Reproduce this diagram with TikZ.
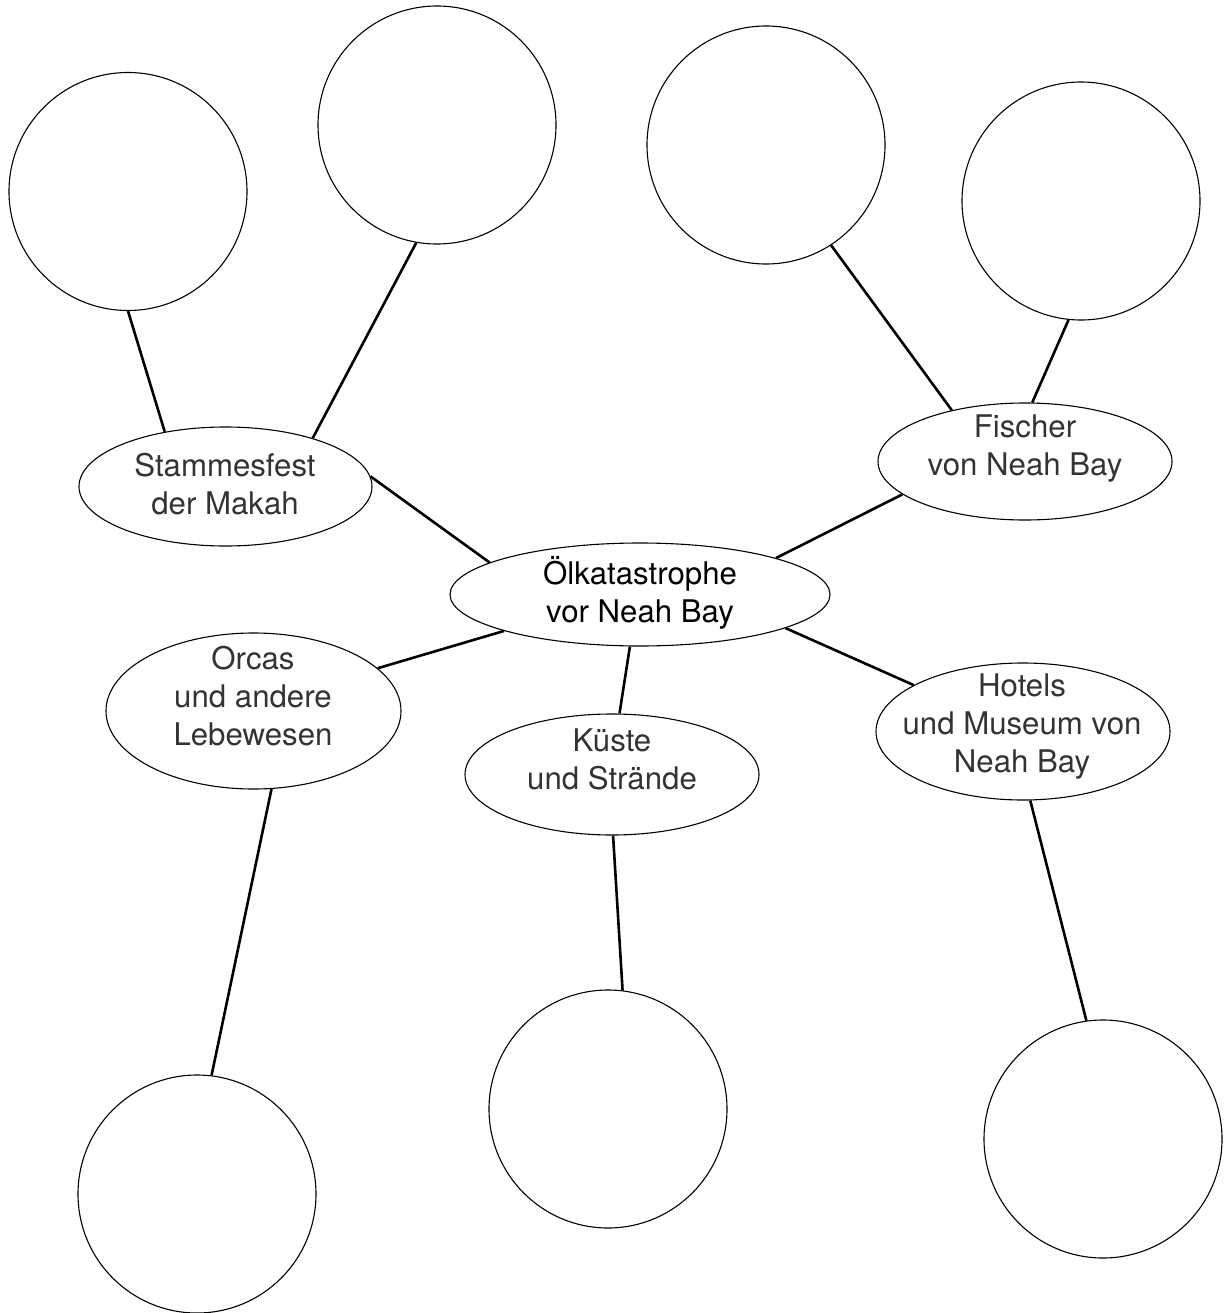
\documentclass[tikz,border=0pt]{standalone}
\usepackage{fontspec}
\setmainfont{TeX Gyre Heros}
\usetikzlibrary{shapes.geometric}
\begin{document}
\begin{tikzpicture}[x=1pt,y=-1pt,
  bub/.style={draw, circle, line width=1.1pt, minimum size=238pt, inner sep=0pt},
  oval/.style={draw, ellipse, line width=1.1pt, inner sep=0pt},
  link/.style={line width=2.6pt},
  lbl/.style={align=center, anchor=base, font=\fontsize{31.2}{38}\selectfont, text=black!80},
]
\useasboundingbox (0,0) rectangle (1223,1313);

% circles
\node[bub] (c1) at (128,191.5) {};
\node[bub] (c2) at (437,125) {};
\node[bub] (c3) at (766,145) {};
\node[bub] (c4) at (1081,201) {};
\node[bub] (c5) at (197,1194) {};
\node[bub] (c6) at (608,1109) {};
\node[bub] (c7) at (1103,1139) {};

% ellipses
\node[oval, minimum width=293pt, minimum height=119pt] (st) at (225.5,486.5) {};
\node[oval, minimum width=380pt, minimum height=103pt] (ce) at (640,594.5) {};
\node[oval, minimum width=294pt, minimum height=117pt] (fi) at (1025,461.5) {};
\node[oval, minimum width=295pt, minimum height=156pt] (or) at (253.5,711) {};
\node[oval, minimum width=294pt, minimum height=121pt] (ku) at (612,774.5) {};
\node[oval, minimum width=294pt, minimum height=137pt] (ho) at (1023,731.5) {};

% texts (anchor at baseline of last line)
\node[lbl] (stt) at (225,514) {Stammesfest\\der Makah};
\node[lbl, text=black] (cet) at (640,622) {Ölkatastrophe\\vor Neah Bay};
\node[lbl] (fit) at (1025,475) {Fischer\\von Neah Bay};
\node[lbl] (ort) at (253,745) {Orcas\\und andere\\Lebewesen};
\node[lbl] (kut) at (612,789) {Küste\\und Strände};
\node[lbl] (hot) at (1022,772) {Hotels\\und Museum von\\Neah Bay};

% connectors
\draw[link] (c1.270) -- (st.138.8);
\draw[link] (c2.260.8) -- (st.29.9);
\draw[link] (st.4.1) -- (ce.168.4);
\draw[link] (fi.145.6) -- (c3.303);
\draw[link] (fi.83.9) -- (c4.264.2);
\draw[link] (fi.195.5) -- (ce.15.5);
\draw[link] (ce.195.2) -- (or.19.6);
\draw[link] (ce.259.4) -- (ku.83.4);
\draw[link] (ce.347.5) -- (ho.157.7);
\draw[link] (or.283.2) -- (c5.83);
\draw[link] (ku.271) -- (c6.83.9);
\draw[link] (ho.276.5) -- (c7.98.9);
\end{tikzpicture}
\end{document}
